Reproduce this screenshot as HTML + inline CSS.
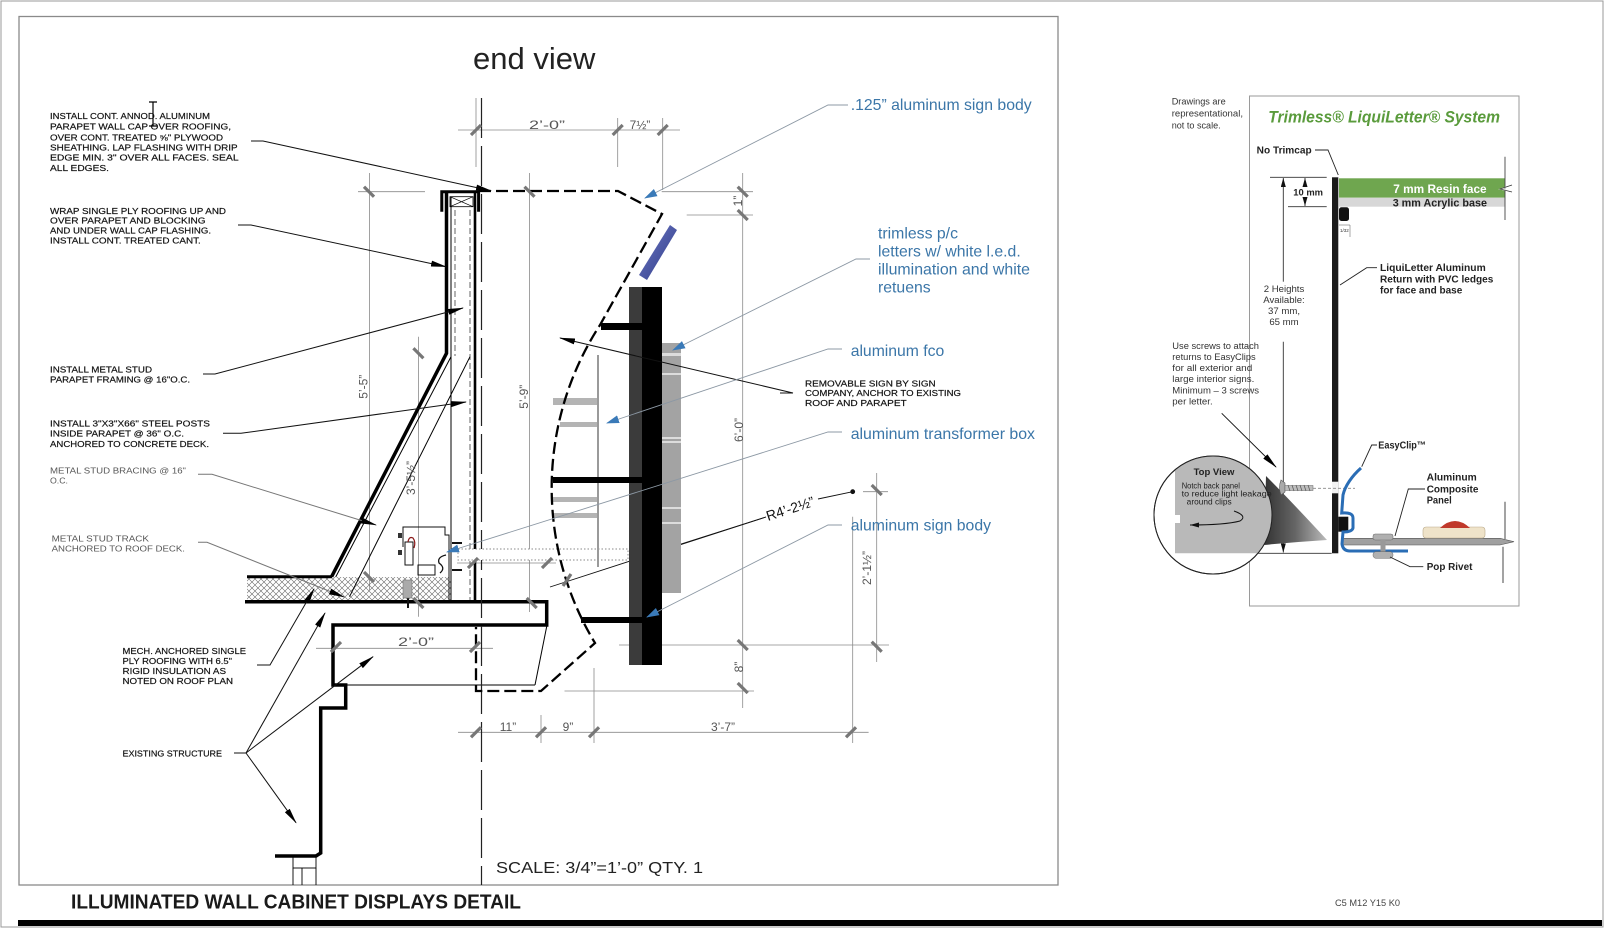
<!DOCTYPE html>
<html><head><meta charset="utf-8">
<style>
html,body{margin:0;padding:0;background:#fff;}
svg{display:block;}
text{font-family:"Liberation Sans",Arial,sans-serif;}
.n{font-size:8.6px;fill:#111;stroke:#111;stroke-width:0.18;}
.ng{font-size:8.6px;fill:#555;}
.bl{font-size:16px;fill:#3b76a8;}
.dm{font-size:12px;fill:#555;}
.r{font-size:9.6px;fill:#333;}
.rb{font-size:10px;fill:#222;font-weight:bold;}
</style></head><body>
<svg width="1621" height="928" viewBox="0 0 1621 928" xmlns="http://www.w3.org/2000/svg">
<defs>
<pattern id="hatch" width="6" height="6" patternUnits="userSpaceOnUse">
<path d="M0,0 L6,6 M6,0 L0,6" stroke="#666" stroke-width="0.6"/>
</pattern>
<marker id="ak" markerWidth="16" markerHeight="6" refX="15" refY="3" orient="auto" markerUnits="userSpaceOnUse"><path d="M0,0 L16,3 L0,6 Z" fill="#000"/></marker>
<marker id="ab" markerWidth="13" markerHeight="8" refX="12" refY="4" orient="auto" markerUnits="userSpaceOnUse"><path d="M0,0 L13,4 L0,8 Z" fill="#3a7ab8"/></marker>
<marker id="as" markerWidth="9" markerHeight="5" refX="9" refY="2.5" orient="auto" markerUnits="userSpaceOnUse"><path d="M0,0 L9,2.5 L0,5 Z" fill="#111"/></marker>
<linearGradient id="gblue" x1="0" y1="0" x2="1" y2="1"><stop offset="0" stop-color="#6d78c4"/><stop offset="1" stop-color="#2e3a86"/></linearGradient>
<linearGradient id="gcone" x1="0" y1="0" x2="1" y2="0"><stop offset="0" stop-color="#333"/><stop offset="0.5" stop-color="#666"/><stop offset="1" stop-color="#bbb"/></linearGradient>
<clipPath id="cc"><circle cx="1213" cy="515" r="59"/></clipPath>
</defs>

<!-- frames -->
<rect x="1" y="1" width="1602" height="926" fill="none" stroke="#9a9a9a" stroke-width="1"/>
<rect x="19" y="16.5" width="1039" height="868.5" fill="none" stroke="#8a8a8a" stroke-width="1.3"/>
<rect x="18" y="920" width="1584" height="6" fill="#000"/>

<text x="71" y="908.5" font-size="20" font-weight="bold" fill="#1a1a1a" textLength="450" lengthAdjust="spacingAndGlyphs">ILLUMINATED WALL CABINET DISPLAYS DETAIL</text>
<text x="1335" y="906" font-size="9" fill="#444" textLength="65" lengthAdjust="spacingAndGlyphs">C5 M12 Y15 K0</text>

<text x="473" y="69" font-size="31" fill="#222">end view</text>
<text x="496" y="873" font-size="16" fill="#222" textLength="207" lengthAdjust="spacingAndGlyphs">SCALE: 3/4”=1’-0”   QTY. 1</text>

<!-- cursor -->
<path d="M149,102 H157 M153,102 V126 M149,126 H157" stroke="#000" stroke-width="1.2" fill="none"/>

<!-- dimension lines (gray) -->
<g stroke="#8a8a8a" stroke-width="0.8" fill="none">
<line x1="458" y1="130" x2="680" y2="130"/>
<line x1="476" y1="98" x2="476" y2="167"/>
<line x1="617.7" y1="118" x2="617.7" y2="167"/>
<line x1="662.7" y1="118" x2="662.7" y2="190"/>
<line x1="742.7" y1="173" x2="742.7" y2="708"/>
<line x1="661.7" y1="191.7" x2="753" y2="191.7"/>
<line x1="686.7" y1="215" x2="753" y2="215"/>
<line x1="619" y1="645" x2="889" y2="645"/>
<line x1="564.5" y1="691" x2="754" y2="691"/>
<line x1="876.7" y1="473" x2="876.7" y2="662"/>
<line x1="863" y1="491.7" x2="888" y2="491.7"/>
<line x1="852.7" y1="516.7" x2="852.7" y2="743"/>
<line x1="458" y1="732.3" x2="868.6" y2="732.3"/>
<line x1="541" y1="715" x2="541" y2="743"/>
<line x1="594" y1="668" x2="594" y2="743"/>
<line x1="369.5" y1="173" x2="369.5" y2="590"/>
<line x1="358" y1="191.7" x2="425" y2="191.7"/>
<line x1="529.5" y1="173" x2="529.5" y2="612"/>
<line x1="418.4" y1="336.7" x2="418.4" y2="616.7"/>
<line x1="316" y1="648.3" x2="493" y2="648.3"/>
<line x1="457" y1="563" x2="556" y2="563"/>
</g>

<!-- structure: insulation & deck -->
<rect x="247" y="577" width="204" height="24" fill="url(#hatch)"/>
<g stroke="#000" fill="none" stroke-linejoin="miter">
<line x1="247" y1="576.7" x2="332" y2="576.7" stroke-width="3"/>
<line x1="245" y1="601.7" x2="548" y2="601.7" stroke-width="3.5"/>
<path d="M546.7,600 V625 H333 V685 H345.7 V708 H320.7 V853 L316,856 H275" stroke-width="3.5"/>
<line x1="345.7" y1="685" x2="535" y2="685" stroke-width="1"/>
<line x1="547" y1="625" x2="535" y2="685" stroke-width="1"/>
<rect x="293" y="856" width="23" height="12" stroke-width="0.9"/>
<path d="M293,868 V885 M302,868 V885 M316,868 V885" stroke-width="0.9"/>
</g>

<!-- parapet -->
<g fill="none" stroke="#000">
<path d="M441.8,211.7 V191.7 H478.6 V211.7" stroke-width="3"/>
<rect x="450" y="196.7" width="23" height="10" stroke-width="0.8"/>
<path d="M450,196.7 L473,206.7 M473,196.7 L450,206.7" stroke-width="0.7"/>
<path d="M446.5,192 V353.3 L331.6,576.7" stroke-width="3.5"/>
<path d="M451,196.7 V356.7 L335.7,577" stroke-width="1"/>
<line x1="451" y1="356.7" x2="451" y2="600" stroke-width="1"/>
<line x1="455" y1="210" x2="455" y2="356" stroke="#666" stroke-width="1" stroke-dasharray="6 3"/>
<line x1="470" y1="210" x2="470" y2="600" stroke="#666" stroke-width="1" stroke-dasharray="6 3"/>
<line x1="475" y1="192" x2="475" y2="601" stroke-width="2.6"/>
<line x1="470" y1="356.7" x2="349.5" y2="596.7" stroke-width="1"/>
<line x1="481.5" y1="98" x2="481.5" y2="885" stroke="#222" stroke-width="1.2" stroke-dasharray="40 8"/>
</g>

<!-- electrical box -->
<g fill="none" stroke="#111" stroke-width="1">
<path d="M403,547 V527 H445 V535 H449 V600"/>
<rect x="405" y="542" width="8" height="23" fill="#fff"/>
<path d="M408,542 Q409,536 413,538 Q416,542 414,548" stroke="#8b1a1a" stroke-width="1.2"/>
<rect x="418" y="565" width="17" height="10"/>
<path d="M446,555 Q437,557 439,563 Q446,568 440,573" stroke-width="1.3"/>
<line x1="408" y1="598" x2="408" y2="608" stroke-width="2"/>
</g>
<rect x="403" y="580" width="9" height="18" fill="#aaa" stroke="#666" stroke-width="0.5"/>
<rect x="398" y="550" width="4" height="5" fill="#333"/>
<rect x="398" y="533" width="4" height="5" fill="#333"/>
<path d="M452,543 H462 M452,570 H462" stroke="#111" stroke-width="2"/>

<!-- dotted conduit -->
<rect x="458" y="549" width="170" height="11" fill="#fff" stroke="#888" stroke-width="0.9" stroke-dasharray="1.5 2"/>

<!-- R dimension line -->
<line x1="550" y1="587" x2="766" y2="517" stroke="#111" stroke-width="0.9"/>
<line x1="818" y1="499" x2="852.7" y2="491.7" stroke="#111" stroke-width="0.9"/>
<circle cx="852.7" cy="491.7" r="2.4" fill="#111"/>
<text x="768" y="521" font-size="14" fill="#111" transform="rotate(-18 768 521)">R4’-2½”</text>

<!-- gray letter bars (left side) -->
<g fill="#b4b4b4">
<rect x="553" y="398" width="45" height="7"/>
<rect x="560" y="422" width="38" height="5"/>
<rect x="553" y="497" width="45" height="5"/>
<rect x="553" y="513" width="45" height="5"/>
</g>
<line x1="598" y1="355" x2="598" y2="567" stroke="#9a9a9a" stroke-width="2"/>

<!-- dashed cabinet outline -->
<path d="M479,191 H618 L662,214 L600,325 A299,299 0 0 0 595,643 L541,691 H476 V627" fill="none" stroke="#000" stroke-width="2.3" stroke-dasharray="12 5"/>

<!-- blue tilted -->
<polygon points="670,225 677,230 647,280 639,275" fill="url(#gblue)"/>

<!-- sign -->
<rect x="629" y="287" width="13" height="378" fill="#3b3b3b"/>
<rect x="642" y="287" width="20" height="378" fill="#000"/>
<rect x="662" y="343" width="19" height="250" fill="#a3a3a3"/>
<g fill="#dcdcdc">
<rect x="662" y="353" width="19" height="3"/>
<rect x="662" y="373" width="19" height="2"/>
<rect x="662" y="437" width="19" height="2"/>
<rect x="662" y="441" width="19" height="2"/>
<rect x="662" y="507" width="19" height="2"/>
<rect x="662" y="522" width="19" height="2"/>
</g>
<rect x="601" y="323" width="41" height="7" fill="#000"/>
<rect x="553" y="477" width="89" height="6" fill="#000"/>
<rect x="581" y="617" width="61" height="6" fill="#000"/>
<line x1="681" y1="544" x2="766" y2="517" stroke="#111" stroke-width="0.9"/>

<!-- ticks -->
<g stroke="#777" stroke-width="3.2" stroke-linecap="butt">
<path d="M471,135 L481,125 M612.7,135 L622.7,125 M657.7,135 L667.7,125"/>
<path d="M364,186.7 L374,196.7 M524.5,186.7 L534.5,196.7 M413.4,348.3 L423.4,358.3 M364,572 L374,582 M413.4,598 L423.4,608 M526.7,598 L536.7,608"/>
<path d="M737.7,186.7 L747.7,196.7 M737.7,210 L747.7,220 M737.7,640 L747.7,650 M737.7,683 L747.7,693"/>
<path d="M871.7,485 L881.7,495 M871.7,641.7 L881.7,651.7"/>
<path d="M331,652 L341,642 M470,652 L480,642"/>
<path d="M471,737.3 L481,727.3 M536,737.3 L546,727.3 M589,737.3 L599,727.3 M846,737.3 L856,727.3"/>
<path d="M468,568 L478,558 M542,568 L552,558 M563,586 L571,574"/>
</g>

<!-- dimension texts -->
<text class="dm" x="547" y="129" text-anchor="middle" textLength="36" lengthAdjust="spacingAndGlyphs">2’-0”</text>
<text class="dm" x="640" y="129" text-anchor="middle">7½”</text>
<text class="dm" x="416" y="646" text-anchor="middle" textLength="36" lengthAdjust="spacingAndGlyphs">2’-0”</text>
<text class="dm" x="508" y="731" text-anchor="middle" font-size="10">11”</text>
<text class="dm" x="568" y="731" text-anchor="middle" font-size="10">9”</text>
<text class="dm" x="723" y="731" text-anchor="middle" font-size="11">3’-7”</text>
<text class="dm" transform="translate(367.5 386.7) rotate(-90)" text-anchor="middle">5’-5”</text>
<text class="dm" transform="translate(528 396.7) rotate(-90)" text-anchor="middle">5’-9”</text>
<text class="dm" transform="translate(415 478) rotate(-90)" text-anchor="middle">3’-5½”</text>
<text class="dm" transform="translate(743 430) rotate(-90)" text-anchor="middle">6’-0”</text>
<text class="dm" transform="translate(743 667) rotate(-90)" text-anchor="middle">8”</text>
<text class="dm" transform="translate(742 201) rotate(-90)" text-anchor="middle" font-size="9">1”</text>
<text class="dm" transform="translate(871 568) rotate(-90)" text-anchor="middle">2’-1½”</text>

<!-- black leaders -->
<g fill="none" stroke="#111" stroke-width="1">
<polyline points="251,141 263,141 491,190.7" marker-end="url(#ak)"/>
<polyline points="238,225 251,225 446,266.7" marker-end="url(#ak)"/>
<polyline points="203,374 215,374 463,308" marker-end="url(#ak)"/>
<polyline points="223,433.3 241,433.3 466,402" marker-end="url(#ak)"/>
<polyline points="198,474.3 212,474.3 376,525" stroke="#777" marker-end="url(#ak)"/>
<polyline points="198,542.3 207,542.3 344,597" stroke="#777" marker-end="url(#ak)"/>
<polyline points="257,665 270,665 314,589" marker-end="url(#ak)"/>
<line x1="234" y1="753" x2="246" y2="753"/>
<line x1="246" y1="753" x2="325" y2="613" marker-end="url(#ak)"/>
<line x1="246" y1="753" x2="373" y2="656.7" marker-end="url(#ak)"/>
<line x1="246" y1="753" x2="296" y2="822.7" marker-end="url(#ak)"/>
<line x1="780" y1="393" x2="793" y2="393"/>
<line x1="793" y1="393" x2="560" y2="338" marker-end="url(#ak)"/>
</g>

<!-- blue leaders -->
<g fill="none" stroke="#8c98a4" stroke-width="0.9">
<polyline points="848,105 828,105 645,198" marker-end="url(#ab)"/>
<polyline points="870,259 856,259 673,350" marker-end="url(#ab)"/>
<polyline points="842,349 828,349 607,423" marker-end="url(#ab)"/>
<polyline points="842,432 828,432 447,552" marker-end="url(#ab)"/>
<polyline points="842,525 828,525 647,617" marker-end="url(#ab)"/>
</g>

<!-- blue labels -->
<text class="bl" x="850.7" y="110" textLength="181" lengthAdjust="spacingAndGlyphs">.125” aluminum sign body</text>
<text class="bl" x="878" y="238.3" textLength="80" lengthAdjust="spacingAndGlyphs">trimless p/c</text>
<text class="bl" x="878" y="256.3" textLength="142.7" lengthAdjust="spacingAndGlyphs">letters w/ white l.e.d.</text>
<text class="bl" x="878" y="274.3" textLength="152" lengthAdjust="spacingAndGlyphs">illumination and white</text>
<text class="bl" x="878" y="292.3" textLength="52.7" lengthAdjust="spacingAndGlyphs">retuens</text>
<text class="bl" x="850.7" y="356" textLength="93.6" lengthAdjust="spacingAndGlyphs">aluminum fco</text>
<text class="bl" x="850.7" y="439" textLength="184.3" lengthAdjust="spacingAndGlyphs">aluminum transformer box</text>
<text class="bl" x="850.7" y="530.7" textLength="140.3" lengthAdjust="spacingAndGlyphs">aluminum sign body</text>

<!-- notes -->
<g>
<text class="n" x="50" y="119" textLength="160" lengthAdjust="spacingAndGlyphs">INSTALL CONT. ANNOD. ALUMINUM</text>
<text class="n" x="50" y="129.3" textLength="181" lengthAdjust="spacingAndGlyphs">PARAPET WALL CAP OVER ROOFING,</text>
<text class="n" x="50" y="140.3" textLength="173" lengthAdjust="spacingAndGlyphs">OVER CONT. TREATED ⅝" PLYWOOD</text>
<text class="n" x="50" y="150.3" textLength="187.6" lengthAdjust="spacingAndGlyphs">SHEATHING.  LAP FLASHING WITH DRIP</text>
<text class="n" x="50" y="160.6" textLength="188.6" lengthAdjust="spacingAndGlyphs">EDGE MIN. 3" OVER ALL FACES.  SEAL</text>
<text class="n" x="50" y="171" textLength="59" lengthAdjust="spacingAndGlyphs">ALL EDGES.</text>

<text class="n" x="50" y="214" textLength="176" lengthAdjust="spacingAndGlyphs">WRAP SINGLE PLY ROOFING UP AND</text>
<text class="n" x="50" y="223.6" textLength="155.6" lengthAdjust="spacingAndGlyphs">OVER PARAPET AND BLOCKING</text>
<text class="n" x="50" y="233.3" textLength="161" lengthAdjust="spacingAndGlyphs">AND UNDER WALL CAP FLASHING.</text>
<text class="n" x="50" y="243.3" textLength="150.8" lengthAdjust="spacingAndGlyphs">INSTALL CONT. TREATED CANT.</text>

<text class="n" x="50" y="372.3" textLength="102" lengthAdjust="spacingAndGlyphs">INSTALL METAL STUD</text>
<text class="n" x="50" y="382.6" textLength="140" lengthAdjust="spacingAndGlyphs">PARAPET FRAMING @ 16"O.C.</text>

<text class="n" x="50" y="426.6" textLength="160" lengthAdjust="spacingAndGlyphs">INSTALL 3"X3"X66" STEEL POSTS</text>
<text class="n" x="50" y="436.6" textLength="134" lengthAdjust="spacingAndGlyphs">INSIDE PARAPET @ 36" O.C.</text>
<text class="n" x="50" y="447" textLength="159" lengthAdjust="spacingAndGlyphs">ANCHORED TO CONCRETE DECK.</text>

<text class="ng" x="50" y="473.3" textLength="136" lengthAdjust="spacingAndGlyphs">METAL STUD BRACING @ 16"</text>
<text class="ng" x="50" y="483.6" textLength="18" lengthAdjust="spacingAndGlyphs">O.C.</text>

<text class="ng" x="51.6" y="541.6" textLength="97.4" lengthAdjust="spacingAndGlyphs">METAL STUD TRACK</text>
<text class="ng" x="51.6" y="551.3" textLength="133.4" lengthAdjust="spacingAndGlyphs">ANCHORED TO ROOF DECK.</text>

<text class="n" x="122.5" y="654" textLength="123.5" lengthAdjust="spacingAndGlyphs">MECH. ANCHORED SINGLE</text>
<text class="n" x="122.5" y="664" textLength="109.5" lengthAdjust="spacingAndGlyphs">PLY ROOFING WITH 6.5"</text>
<text class="n" x="122.5" y="674" textLength="103.5" lengthAdjust="spacingAndGlyphs">RIGID INSULATION AS</text>
<text class="n" x="122.5" y="684" textLength="110.5" lengthAdjust="spacingAndGlyphs">NOTED ON ROOF PLAN</text>

<text class="n" x="122.5" y="756.6" textLength="99.5" lengthAdjust="spacingAndGlyphs">EXISTING STRUCTURE</text>

<text class="n" x="805" y="386.6" textLength="130.7" lengthAdjust="spacingAndGlyphs">REMOVABLE SIGN BY SIGN</text>
<text class="n" x="805" y="396" textLength="156" lengthAdjust="spacingAndGlyphs">COMPANY, ANCHOR TO EXISTING</text>
<text class="n" x="805" y="406" textLength="101.7" lengthAdjust="spacingAndGlyphs">ROOF AND PARAPET</text>
</g>

<!-- ================= RIGHT PANEL ================= -->
<rect x="1249.5" y="96" width="269.5" height="510" fill="none" stroke="#9a9a9a" stroke-width="1"/>
<text class="r" x="1171.7" y="104.3" textLength="54" lengthAdjust="spacingAndGlyphs">Drawings are</text>
<text class="r" x="1171.7" y="116.6" textLength="71.3" lengthAdjust="spacingAndGlyphs">representational,</text>
<text class="r" x="1171.7" y="128.3" textLength="49" lengthAdjust="spacingAndGlyphs">not to scale.</text>

<text x="1268.3" y="122.3" font-size="16.5" font-weight="bold" font-style="italic" fill="#5a9b3c" textLength="231.7" lengthAdjust="spacingAndGlyphs">Trimless® LiquiLetter® System</text>

<text class="rb" x="1256.7" y="153.3" font-size="9.6" textLength="55" lengthAdjust="spacingAndGlyphs">No Trimcap</text>
<polyline points="1315,150 1328,150 1338.3,175" fill="none" stroke="#222" stroke-width="0.9"/>

<!-- bands -->
<rect x="1339" y="178.3" width="166" height="19.4" fill="#6fa64f"/>
<rect x="1339" y="197.7" width="166" height="9" fill="#d7d7d7"/>
<text x="1393.3" y="193.2" font-size="11.5" font-weight="bold" fill="#fff" textLength="93.3" lengthAdjust="spacingAndGlyphs">7 mm Resin face</text>
<text x="1392.7" y="206.4" font-size="10.8" font-weight="bold" fill="#222" textLength="94.3" lengthAdjust="spacingAndGlyphs">3 mm Acrylic base</text>
<line x1="1505" y1="156.7" x2="1505" y2="220" stroke="#444" stroke-width="0.9"/>
<path d="M1512,185 L1500,189 L1512,192 M1500,189 H1514" fill="none" stroke="#fff" stroke-width="1"/>
<path d="M1512,185 L1500,189 L1512,192" fill="none" stroke="#333" stroke-width="0.7"/>

<!-- return bar -->
<rect x="1332" y="177.3" width="6.3" height="376" fill="#1a1a1a"/>
<rect x="1332" y="481.7" width="6.3" height="11.6" fill="#f2f2f2"/>
<rect x="1339" y="207.3" width="10" height="13.7" rx="2.5" fill="#111"/>
<path d="M1339,225 H1350 V237" fill="none" stroke="#555" stroke-width="0.5"/>
<text x="1340" y="232" font-size="4.5" fill="#333">1/32</text>

<!-- dims -->
<g stroke="#333" stroke-width="0.9" fill="none">
<line x1="1270" y1="177.3" x2="1326.7" y2="177.3"/>
<line x1="1288" y1="206.7" x2="1326.7" y2="206.7"/>
<line x1="1305" y1="187" x2="1305" y2="178" marker-end="url(#as)"/>
<line x1="1305" y1="198" x2="1305" y2="206" marker-end="url(#as)"/>
<line x1="1283.3" y1="281.7" x2="1283.3" y2="178" marker-end="url(#as)"/>
<line x1="1283.3" y1="341.7" x2="1283.3" y2="552.5" marker-end="url(#as)"/>
<line x1="1250" y1="553.3" x2="1331.7" y2="553.3"/>
</g>
<text x="1293.3" y="195.5" font-size="9" font-weight="bold" fill="#222" textLength="29.7" lengthAdjust="spacingAndGlyphs">10 mm</text>
<text x="1284" y="291.8" text-anchor="middle" class="r">2 Heights</text>
<text x="1284" y="302.8" text-anchor="middle" class="r">Available:</text>
<text x="1284" y="313.8" text-anchor="middle" class="r">37 mm,</text>
<text x="1284" y="325.2" text-anchor="middle" class="r">65 mm</text>

<text class="rb" x="1380" y="271.2" textLength="105.7" lengthAdjust="spacingAndGlyphs">LiquiLetter Aluminum</text>
<text class="rb" x="1380" y="282.5" textLength="113.3" lengthAdjust="spacingAndGlyphs">Return with PVC ledges</text>
<text class="rb" x="1380" y="293.5" textLength="82.3" lengthAdjust="spacingAndGlyphs">for face and base</text>
<polyline points="1377,267.7 1366.7,267.7 1340,285" fill="none" stroke="#222" stroke-width="0.9"/>

<text class="r" x="1172.3" y="349" textLength="86.7" lengthAdjust="spacingAndGlyphs">Use screws to attach</text>
<text class="r" x="1172.3" y="360" textLength="83.4" lengthAdjust="spacingAndGlyphs">returns to EasyClips</text>
<text class="r" x="1172.3" y="371" textLength="80" lengthAdjust="spacingAndGlyphs">for all exterior and</text>
<text class="r" x="1172.3" y="382" textLength="82" lengthAdjust="spacingAndGlyphs">large interior signs.</text>
<text class="r" x="1172.3" y="393.3" textLength="86.7" lengthAdjust="spacingAndGlyphs">Minimum – 3 screws</text>
<text class="r" x="1172.3" y="404.3" textLength="40.4" lengthAdjust="spacingAndGlyphs">per letter.</text>
<line x1="1221.7" y1="413.3" x2="1276" y2="467" stroke="#111" stroke-width="0.9" marker-end="url(#ak)"/>

<!-- top view circle -->
<circle cx="1213" cy="515" r="59" fill="#fff" stroke="#222" stroke-width="1"/>
<path d="M1266,476 Q1290,500 1327,540 Q1295,542 1264,545 Z" fill="url(#gcone)"/>
<g clip-path="url(#cc)">
<path d="M1175,455 H1275 V553.3 H1175 V523 H1180 V515 H1175 Z" fill="#b9b9b9"/>
</g>
<circle cx="1213" cy="515" r="59" fill="none" stroke="#222" stroke-width="1"/>
<text x="1214" y="475" font-size="9.5" font-weight="bold" fill="#222" text-anchor="middle">Top View</text>
<text x="1181.7" y="488.3" font-size="8.3" fill="#222" textLength="58.3" lengthAdjust="spacingAndGlyphs">Notch back panel</text>
<text x="1181.7" y="496.5" font-size="8.3" fill="#222" textLength="90" lengthAdjust="spacingAndGlyphs">to reduce light leakage</text>
<text x="1186.7" y="504.7" font-size="8.3" fill="#222" textLength="45" lengthAdjust="spacingAndGlyphs">around clips</text>
<path d="M1234,511 Q1248,516 1240,521 Q1225,525 1190,525" fill="none" stroke="#111" stroke-width="1" marker-end="url(#as)"/>

<!-- screw -->
<path d="M1281,480 Q1278,487.5 1281,495 L1285,492 L1285,483 Z" fill="#aaa" stroke="#555" stroke-width="0.6"/>
<rect x="1285" y="485.5" width="28" height="5" fill="#bdbdbd" stroke="#666" stroke-width="0.5"/>
<path d="M1288,485 L1290,491 M1292,485 L1294,491 M1296,485 L1298,491 M1300,485 L1302,491 M1304,485 L1306,491 M1308,485 L1310,491" stroke="#555" stroke-width="0.7"/>
<line x1="1313" y1="488.3" x2="1355" y2="488.3" stroke="#888" stroke-width="0.8" stroke-dasharray="3 2"/>

<!-- panel -->
<polygon points="1341.7,538.3 1500,538.3 1514,541.7 1500,545 1341.7,545" fill="#a0a0a0" stroke="#555" stroke-width="0.6"/>
<line x1="1505" y1="501.7" x2="1505" y2="539" stroke="#333" stroke-width="0.9"/>
<line x1="1503" y1="546.7" x2="1503" y2="583" stroke="#333" stroke-width="0.9"/>
<!-- led module -->
<rect x="1423" y="527" width="62" height="11" rx="3" fill="#efe3c9" stroke="#b9a98a" stroke-width="0.6"/>
<path d="M1440,528 Q1455,514 1470,528 Z" fill="#c0392b"/>
<!-- clip -->
<rect x="1338.3" y="516.7" width="10" height="15" fill="#111"/>
<path d="M1361,468 C1352,476 1345,486 1343,495 L1341.7,513 Q1353,512 1353,518 L1353,528 Q1352,532 1343,532 L1342,544 Q1343,551 1350,551 L1408,551" fill="none" stroke="#2a6db5" stroke-width="3"/>
<!-- rivet -->
<rect x="1373" y="534" width="20" height="6" rx="2" fill="#b0b0b0" stroke="#666" stroke-width="0.5"/>
<rect x="1380.5" y="540" width="5" height="12" fill="#999"/>
<rect x="1373" y="551.7" width="20" height="6.6" rx="3" fill="#b0b0b0" stroke="#666" stroke-width="0.5"/>

<text class="rb" x="1378.3" y="448.5" textLength="47.7" lengthAdjust="spacingAndGlyphs">EasyClip™</text>
<polyline points="1377,445 1371.7,445 1361.7,466.7" fill="none" stroke="#222" stroke-width="0.9"/>
<text class="rb" x="1426.7" y="480.3" textLength="50" lengthAdjust="spacingAndGlyphs">Aluminum</text>
<text class="rb" x="1426.7" y="492.5" textLength="51.7" lengthAdjust="spacingAndGlyphs">Composite</text>
<text class="rb" x="1426.7" y="503.5" textLength="25" lengthAdjust="spacingAndGlyphs">Panel</text>
<polyline points="1425,489 1408.3,489 1395,536" fill="none" stroke="#222" stroke-width="0.9"/>
<text class="rb" x="1426.7" y="570.2" textLength="45.7" lengthAdjust="spacingAndGlyphs">Pop Rivet</text>
<polyline points="1423.3,566.7 1410,566.7 1390,557" fill="none" stroke="#222" stroke-width="0.9"/>
</svg>
</body></html>
